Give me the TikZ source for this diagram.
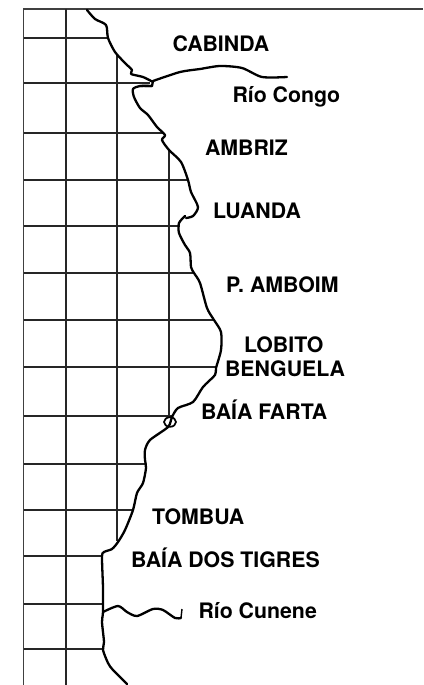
\documentclass[tikz,border=0pt]{standalone}
\usepackage{fontspec}
\setmainfont{TeX Gyre Heros}
\tikzset{
  coast/.style={line width=2.3pt,line join=round,line cap=round,black},
  grid line/.style={line width=1.9pt,black!85},
  frame line/.style={line width=1.7pt,black!75},
  place/.style={anchor=base west,inner sep=0pt,outer sep=0pt,font=\fontsize{21.3}{24}\selectfont\bfseries,text=black}
}
\begin{document}
\begin{tikzpicture}[x=1pt,y=-1pt]
\useasboundingbox (0,0) rectangle (423,685);
% frame
\draw[frame line] (23.5,685) -- (23.5,9) -- (423,9);
% horizontal graticule
\foreach \yy/\xe in {38/108,83/150,133/164,180/188,226/180,273/193,320/214,367/216,416/172,464/146,510/133,556/102,604/103,649/103}
  \draw[grid line] (23.5,\yy) -- (\xe,\yy);
% vertical graticule
\draw[grid line] (66,9) -- (66,685);
\draw[grid line] (117,55) -- (117,541);
\draw[grid line] (169,150) -- (169,416);
% coast
\draw[coast] plot[smooth,tension=0.45] coordinates {(87,10) (95,19) (106,25) (108,38) (115,52) (125,63) (132,70) (131,74) (143,77) (153,82)};
\draw[coast] (153,81) -- (152,86) -- (140,86);
\draw[coast] plot[smooth,tension=0.45] coordinates {(152,86) (140,86) (133,89) (134,97) (140,108) (148,115) (157,127) (165,135) (162,140) (169,150) (181,162) (188,180) (191,192) (198,207) (193,216) (186,218)};
\draw[coast] plot[smooth,tension=0.45] coordinates {(185,216) (179,223) (179,233) (185,245) (190,253) (191,267) (194,273) (200,283) (207,308) (214,320) (221,332) (221,350) (216,368) (215,375) (203,387) (193,402) (178,408) (172,417) (168,427) (150,440) (145,450) (145,460) (146,468) (143,483) (137,493) (133,510) (125,530) (118,542) (112,549) (104,552) (102,557) (103,588) (103,612) (102,622) (104,642) (103,650) (108,663) (113,670) (127,684)};
% Baia Farta ring
\draw[line width=1.7pt,black] (170,422) ellipse [x radius=6,y radius=4.8];
% rivers
\draw[coast] plot[smooth,tension=0.45] coordinates {(153,81) (180,72) (200,69) (220,66) (242,68) (262,77) (287,77)};
\draw[coast] plot[smooth,tension=0.45] coordinates {(103,612) (118,606) (127,612) (137,616) (153,609) (163,610) (175,618) (181,618)};
\draw[line width=1.4pt,black] (181,618) -- (182,609);
% labels
\node[place] (cabinda) at (172.5,51.5) {CABINDA};
\node[place] (congo) at (232.5,102.5) {Río Congo};
\node[place] (ambriz) at (205,155) {AMBRIZ};
\node[place] (luanda) at (213,218.7) {LUANDA};
\node[place] (amboim) at (226,292) {P. AMBOIM};
\node[place] (lobito) at (244,352) {LOBITO};
\node[place] (benguela) at (225,376) {BENGUELA};
\node[place] (farta) at (201,419) {BAÍA FARTA};
\node[place] (tombua) at (152,524) {TOMBUA};
\node[place] (tigres) at (131,567) {BAÍA DOS TIGRES};
\node[place] (cunene) at (198.5,618) {Río Cunene};
\end{tikzpicture}
\end{document}
